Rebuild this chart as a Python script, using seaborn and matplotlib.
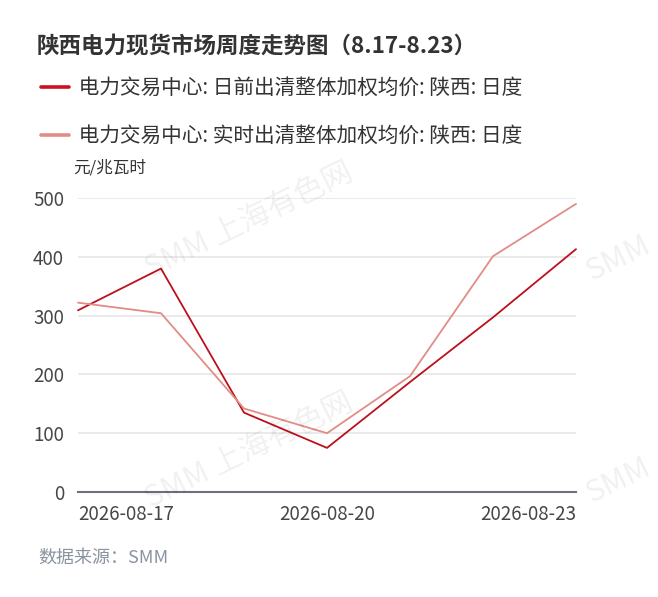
import pandas as pd
import seaborn as sns
import matplotlib.pyplot as plt
import matplotlib.dates as mdates

# data
dates = ['2026-08-17', '2026-08-18', '2026-08-19', '2026-08-20',
         '2026-08-21', '2026-08-22', '2026-08-23']
day_ahead = [309, 380, 135, 75, 187, 297, 413]
real_time = [322, 304, 142, 100, 197, 401, 490]
series_names = ['电力交易中心: 日前出清整体加权均价: 陕西: 日度',
                '电力交易中心: 实时出清整体加权均价: 陕西: 日度']
y_ticks = [0, 100, 200, 300, 400, 500]
x_ticks = ['2026-08-17', '2026-08-20', '2026-08-23']

df = pd.DataFrame({'date': pd.to_datetime(dates),
                   series_names[0]: day_ahead,
                   series_names[1]: real_time})
long_df = df.melt(id_vars='date', var_name='series', value_name='value')

sns.set_theme(style='white')
plt.rcParams['font.family'] = ['Noto Sans CJK SC', 'DejaVu Sans']

W, H = 658, 597
fig = plt.figure(figsize=(W / 100, H / 100), dpi=100)
ax = fig.add_axes([78 / W, 1 - 492 / H, (576 - 78) / W, (492 - 198) / H])

palette = {series_names[0]: '#bc101d', series_names[1]: '#e28c84'}
sns.lineplot(data=long_df, x='date', y='value', hue='series',
             palette=palette, linewidth=1.3, ax=ax, legend=False)
for ln in ax.lines:
    ln.set_clip_on(False)

ax.set_xlim(pd.to_datetime(dates[0]), pd.to_datetime(dates[-1]))
ax.set_ylim(0, 500)
ax.set_yticks(y_ticks)
ax.yaxis.grid(True, color='#e6e6e6', linewidth=1.2)
ax.xaxis.grid(False)
ax.set_xlabel('')
ax.set_ylabel('')
for s in ['top', 'right', 'left']:
    ax.spines[s].set_visible(False)
ax.spines['bottom'].set_color('#6e7079')
ax.spines['bottom'].set_linewidth(1.5)
ax.spines['bottom'].set_zorder(5)

ax.set_xticks(pd.to_datetime(x_ticks))
ax.xaxis.set_major_formatter(mdates.DateFormatter('%Y-%m-%d'))
ax.tick_params(axis='both', length=0, labelsize=13.5, labelcolor='#464646')
ax.tick_params(axis='y', pad=10)
ax.tick_params(axis='x', pad=9)
xl = ax.get_xticklabels()
xl[0].set_ha('left')
xl[-1].set_ha('right')

# legend
handles = [plt.Line2D([], [], color='#cc1020', linewidth=2.6),
           plt.Line2D([], [], color='#e28c84', linewidth=2.6)]
fig.legend(handles, [' ' + n for n in series_names], loc='upper left',
           bbox_to_anchor=(41 / W, 1 - 77 / H), frameon=False,
           fontsize=14.9, labelspacing=1.25, handlelength=1.35,
           handletextpad=0.25, borderpad=0, borderaxespad=0,
           labelcolor='#333333')

fig.text(37 / W, 1 - 46 / H, '陕西电力现货市场周度走势图（8.17-8.23）',
         fontsize=16.2, fontweight='bold', color='#333333', va='center')
fig.text(73 / W, 1 - 168 / H, '元/兆瓦时', fontsize=12, color='#333333',
         va='center')
fig.text(38 / W, 1 - 558 / H, '数据来源：SMM', fontsize=13,
         style='italic', color='#8a93a0', va='center')

# watermark
for cx, cy in [(250, 222), (250, 452)]:
    fig.text(cx / W, 1 - cy / H, 'SMM 上海有色网', fontsize=22,
             color='#000000', alpha=0.06, rotation=26,
             ha='center', va='center')
for cx, cy in [(618, 258), (618, 480)]:
    fig.text(cx / W, 1 - cy / H, 'SMM', fontsize=22,
             color='#000000', alpha=0.06, rotation=26,
             ha='center', va='center')

fig.savefig('out.png', dpi=100)
